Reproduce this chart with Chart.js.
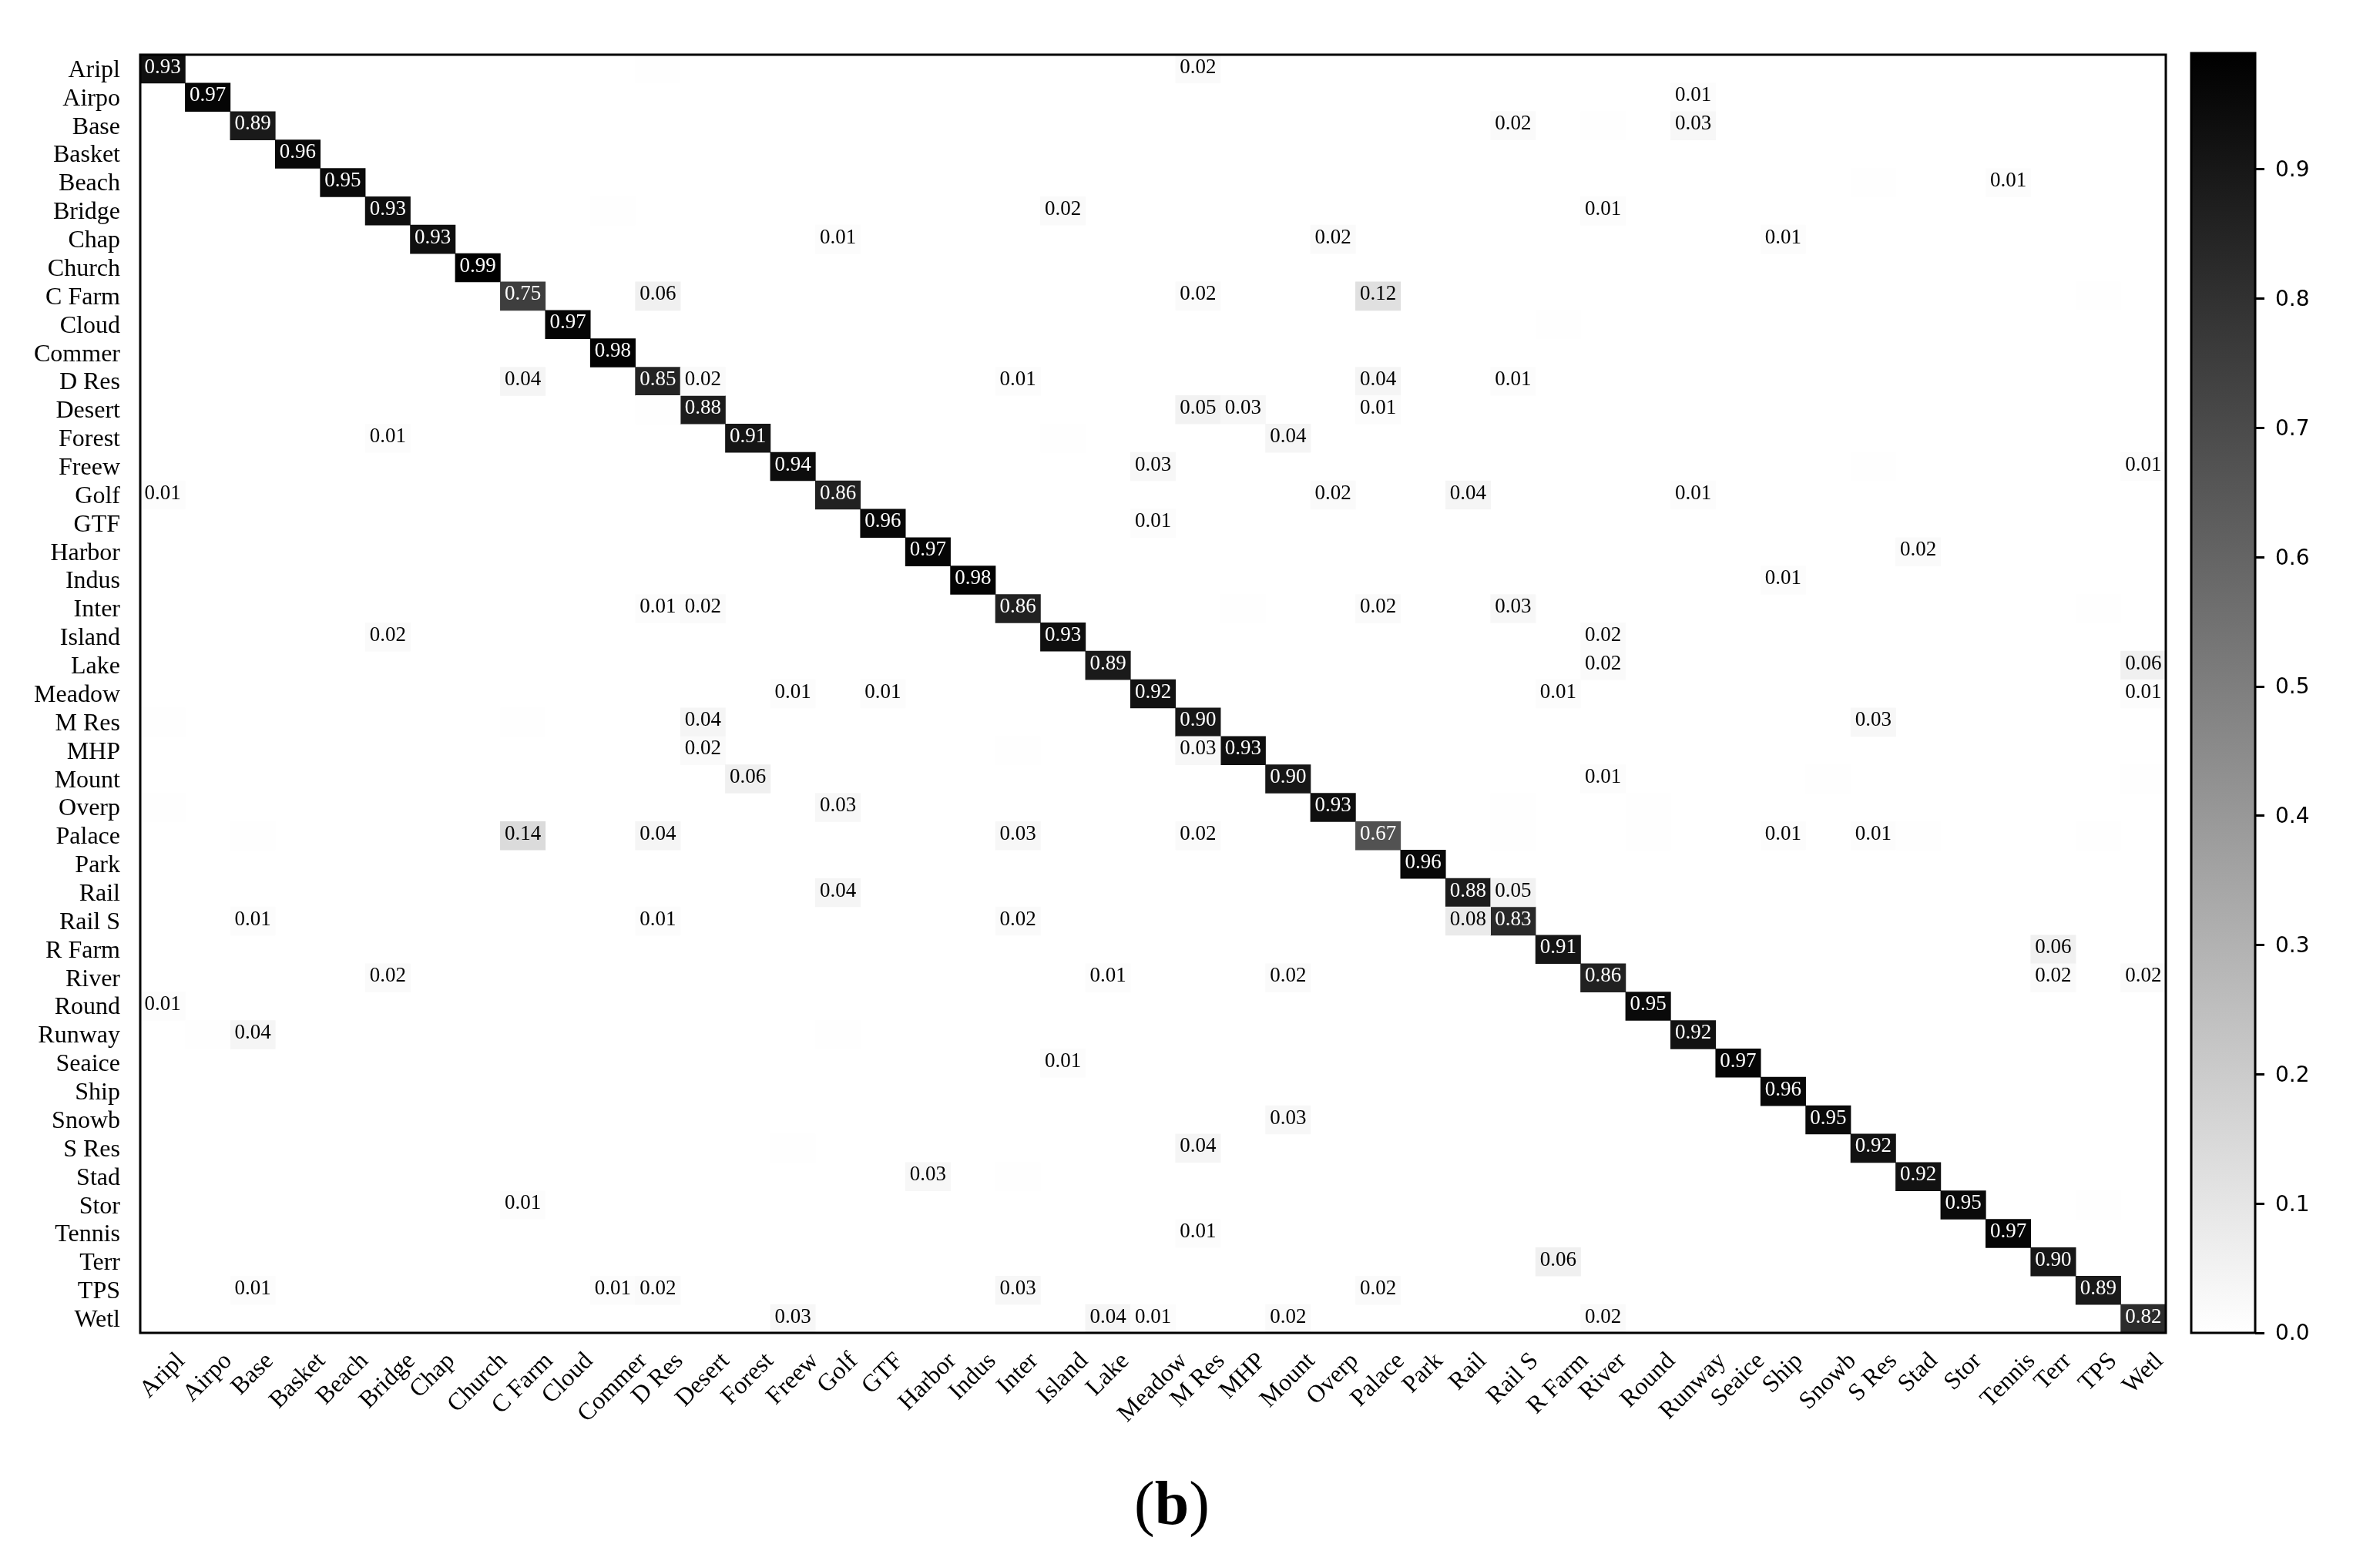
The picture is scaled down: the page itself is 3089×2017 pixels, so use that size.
<!DOCTYPE html>
<html>
<head>
<meta charset="utf-8">
<script src="https://cdn.jsdelivr.net/npm/chart.js@4"></script>
<style>
  html, body { margin: 0; padding: 0; background: #fff; }
  body { position: relative; width: 3089px; height: 2017px; overflow: hidden; }
  canvas { position: absolute; left: 0; top: 0; }
  #caption { position: absolute; left: 1472px; top: 1906px; font: 80px/90px "Liberation Serif", serif; color: #000; }
</style>
</head>
<body>
<canvas id="heat" width="3089" height="2017"></canvas>
<canvas id="cbar" width="3089" height="2017"></canvas>
<div id="caption">(<b>b</b>)</div>
<script>
const categories = ['Aripl', 'Airpo', 'Base', 'Basket', 'Beach', 'Bridge', 'Chap', 'Church', 'C Farm', 'Cloud',
  'Commer', 'D Res', 'Desert', 'Forest', 'Freew', 'Golf', 'GTF', 'Harbor', 'Indus', 'Inter', 'Island', 'Lake',
  'Meadow', 'M Res', 'MHP', 'Mount', 'Overp', 'Palace', 'Park', 'Rail', 'Rail S', 'R Farm', 'River', 'Round',
  'Runway', 'Seaice', 'Ship', 'Snowb', 'S Res', 'Stad', 'Stor', 'Tennis', 'Terr', 'TPS', 'Wetl'];

// diagonal, same order as categories
const diagonal = [0.93, 0.97, 0.89, 0.96, 0.95, 0.93, 0.93, 0.99, 0.75, 0.97, 0.98, 0.85, 0.88, 0.91, 0.94,
  0.86, 0.96, 0.97, 0.98, 0.86, 0.93, 0.89, 0.92, 0.90, 0.93, 0.90, 0.93, 0.67, 0.96, 0.88, 0.83, 0.91, 0.86,
  0.95, 0.92, 0.97, 0.96, 0.95, 0.92, 0.92, 0.95, 0.97, 0.90, 0.89, 0.82];

// [row, col, value] for the printed off-diagonal cells
const confusions = [
  [0, 23, 0.02], [1, 34, 0.01], [2, 30, 0.02], [2, 34, 0.03], [4, 41, 0.01], [5, 20, 0.02], [5, 32, 0.01],
  [6, 15, 0.01], [6, 26, 0.02], [6, 36, 0.01], [8, 11, 0.06], [8, 23, 0.02], [8, 27, 0.12],
  [11, 8, 0.04], [11, 12, 0.02], [11, 19, 0.01], [11, 27, 0.04], [11, 30, 0.01],
  [12, 23, 0.05], [12, 24, 0.03], [12, 27, 0.01], [13, 5, 0.01], [13, 25, 0.04], [14, 22, 0.03], [14, 44, 0.01],
  [15, 0, 0.01], [15, 26, 0.02], [15, 29, 0.04], [15, 34, 0.01], [16, 22, 0.01], [17, 39, 0.02], [18, 36, 0.01],
  [19, 11, 0.01], [19, 12, 0.02], [19, 27, 0.02], [19, 30, 0.03], [20, 5, 0.02], [20, 32, 0.02],
  [21, 32, 0.02], [21, 44, 0.06], [22, 14, 0.01], [22, 16, 0.01], [22, 31, 0.01], [22, 44, 0.01],
  [23, 12, 0.04], [23, 38, 0.03], [24, 12, 0.02], [24, 23, 0.03], [25, 13, 0.06], [25, 32, 0.01], [26, 15, 0.03],
  [27, 8, 0.14], [27, 11, 0.04], [27, 19, 0.03], [27, 23, 0.02], [27, 36, 0.01], [27, 38, 0.01],
  [29, 15, 0.04], [29, 30, 0.05], [30, 2, 0.01], [30, 11, 0.01], [30, 19, 0.02], [30, 29, 0.08], [31, 42, 0.06],
  [32, 5, 0.02], [32, 21, 0.01], [32, 25, 0.02], [32, 42, 0.02], [32, 44, 0.02], [33, 0, 0.01], [34, 2, 0.04],
  [35, 20, 0.01], [37, 25, 0.03], [38, 23, 0.04], [39, 17, 0.03], [40, 8, 0.01], [41, 23, 0.01], [42, 31, 0.06],
  [43, 2, 0.01], [43, 10, 0.01], [43, 11, 0.02], [43, 19, 0.03], [43, 27, 0.02],
  [44, 14, 0.03], [44, 21, 0.04], [44, 22, 0.01], [44, 25, 0.02], [44, 32, 0.02]
];

// barely visible cells that round to 0.00, no text on them
const faintCells = [
  [0, 11, 0.0049], [2, 32, 0.0049], [4, 38, 0.0049], [5, 10, 0.0049], [8, 43, 0.0049], [9, 31, 0.0049], [12, 11, 0.0049],
  [13, 20, 0.0049], [14, 38, 0.0049], [19, 24, 0.0049], [19, 43, 0.0049], [23, 0, 0.0049], [23, 8, 0.0049], [24, 19, 0.0049],
  [25, 37, 0.0049], [25, 44, 0.0049], [26, 0, 0.0049], [26, 30, 0.0049], [26, 33, 0.0049], [27, 2, 0.0049], [27, 30, 0.0049],
  [27, 33, 0.0049], [27, 39, 0.0049], [27, 43, 0.0049], [34, 1, 0.0049], [34, 15, 0.0049], [38, 14, 0.0049], [39, 19, 0.0049],
  [40, 43, 0.0049]
];

const colorMax = 0.99;
const colorbarTicks = [0, 0.1, 0.2, 0.3, 0.4, 0.5, 0.6, 0.7, 0.8, 0.9];

const serif = '"Liberation Serif", serif';

function grayOf(v) {
  const g = Math.round(255 * (1 - v / colorMax));
  return 'rgb(' + g + ',' + g + ',' + g + ')';
}

const cells = [];
diagonal.forEach((v, i) => cells.push({ x: categories[i], y: [i, i + 1], v: v }));
confusions.concat(faintCells).forEach(c => cells.push({ x: categories[c[1]], y: [c[0], c[0] + 1], v: c[2] }));

// frame around the plot area
const framePlugin = {
  id: 'frame',
  afterDraw(chart) {
    const a = chart.chartArea, ctx = chart.ctx;
    ctx.save();
    ctx.strokeStyle = '#000';
    ctx.lineWidth = 3;
    ctx.strokeRect(a.left, a.top, a.right - a.left, a.bottom - a.top);
    ctx.restore();
  }
};

// numbers inside the cells
const cellTextPlugin = {
  id: 'cellText',
  afterDatasetsDraw(chart) {
    const ctx = chart.ctx, meta = chart.getDatasetMeta(0);
    ctx.save();
    ctx.font = '27px ' + serif;
    ctx.textAlign = 'center';
    ctx.textBaseline = 'middle';
    meta.data.forEach((bar, i) => {
      const v = cells[i].v;
      if (v < 0.005) return;
      ctx.fillStyle = v > 0.5 ? '#fff' : '#000';
      ctx.fillText(v.toFixed(2), bar.x, (bar.y + bar.base) / 2 - 2);
    });
    ctx.restore();
  }
};

// x labels: rotated 45deg and centred under the column, chart.js can only right-align these
const xLabelPlugin = {
  id: 'xLabels',
  afterDraw(chart) {
    const ctx = chart.ctx, sx = chart.scales.x;
    ctx.save();
    ctx.font = '32px ' + serif;
    ctx.fillStyle = '#000';
    ctx.textAlign = 'center';
    ctx.textBaseline = 'middle';
    categories.forEach((c, i) => {
      const w = ctx.measureText(c).width;
      const half = (w + 22) * Math.SQRT1_2 / 2;
      ctx.save();
      ctx.translate(sx.getPixelForValue(i), chart.chartArea.bottom + 24 + half);
      ctx.rotate(-Math.PI / 4);
      ctx.fillText(c, 0, 0);
      ctx.restore();
    });
    ctx.restore();
  }
};

new Chart(document.getElementById('heat').getContext('2d'), {
  type: 'bar',
  data: {
    labels: categories,
    datasets: [{
      data: cells,
      backgroundColor: c => grayOf(c.raw.v),
      borderWidth: 0,
      barPercentage: 1,
      categoryPercentage: 1
    }]
  },
  options: {
    responsive: false,
    animation: false,
    devicePixelRatio: 1,
    layout: { padding: { left: 0, top: 71, right: 278, bottom: 0 } },
    plugins: { legend: { display: false }, tooltip: { enabled: false } },
    scales: {
      x: {
        type: 'category',
        grid: { display: false },
        border: { display: false },
        ticks: { display: false },
        afterFit: axis => { axis.height = 287; }
      },
      y: {
        type: 'linear',
        min: 0,
        max: categories.length,
        reverse: true,
        grid: { display: false, drawTicks: false },
        border: { display: false },
        afterBuildTicks: axis => { axis.ticks = categories.map((c, i) => ({ value: i + 0.5 })); },
        afterFit: axis => { axis.width = 182; },
        ticks: {
          autoSkip: false,
          padding: 26,
          labelOffset: 2,
          color: '#000',
          font: { family: serif, size: 32 },
          callback: v => categories[v - 0.5]
        }
      }
    }
  },
  plugins: [cellTextPlugin, xLabelPlugin, framePlugin]
});

// colorbar is a single floating bar with a gradient
new Chart(document.getElementById('cbar').getContext('2d'), {
  type: 'bar',
  data: {
    labels: [''],
    datasets: [{
      data: [[0, colorMax]],
      backgroundColor: c => {
        const a = c.chart.chartArea;
        if (!a) return '#888';
        const g = c.chart.ctx.createLinearGradient(0, a.bottom, 0, a.top);
        g.addColorStop(0, '#fff');
        g.addColorStop(1, '#000');
        return g;
      },
      borderWidth: 0,
      barPercentage: 1,
      categoryPercentage: 1
    }]
  },
  options: {
    responsive: false,
    animation: false,
    devicePixelRatio: 1,
    layout: { padding: { left: 2844, top: 69, right: 0, bottom: 287 } },
    plugins: { legend: { display: false }, tooltip: { enabled: false } },
    scales: {
      x: { display: false },
      y: {
        position: 'right',
        min: 0,
        max: colorMax,
        grid: { drawOnChartArea: false, tickLength: 12, tickWidth: 3, tickColor: '#000' },
        border: { display: false },
        afterBuildTicks: axis => { axis.ticks = colorbarTicks.map(v => ({ value: v })); },
        afterFit: axis => { axis.width = 162; },
        ticks: {
          autoSkip: false,
          padding: 14,
          labelOffset: 2,
          color: '#000',
          font: { family: '"DejaVu Sans", sans-serif', size: 28 },
          callback: v => v.toFixed(1)
        }
      }
    }
  },
  plugins: [framePlugin]
});
</script>
</body>
</html>
